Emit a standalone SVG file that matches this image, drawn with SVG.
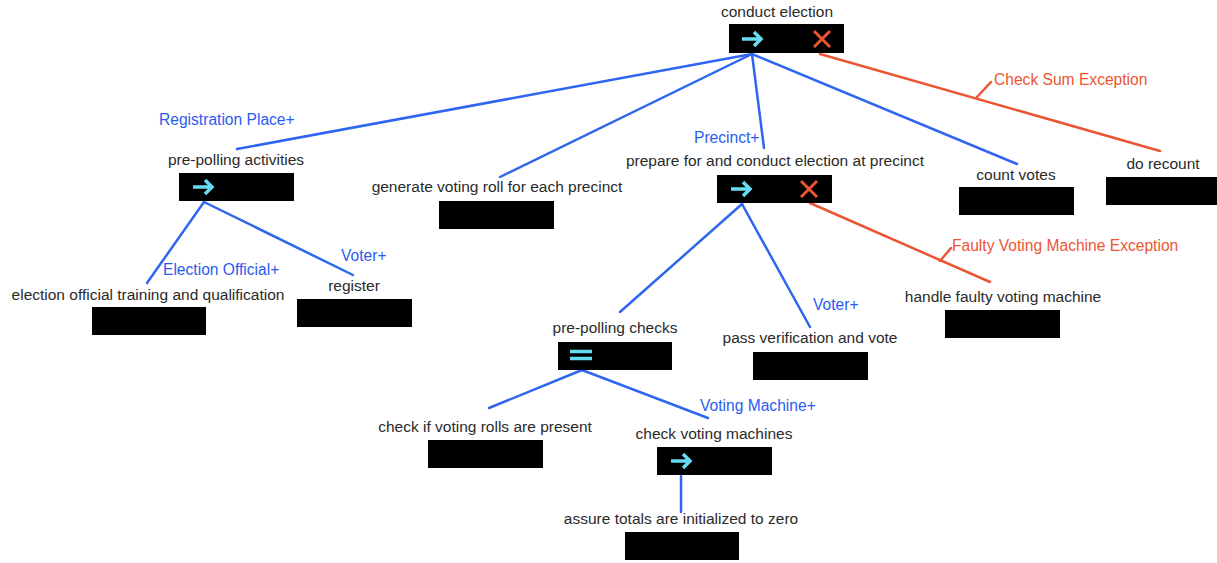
<svg xmlns="http://www.w3.org/2000/svg" width="1217" height="563" viewBox="0 0 1217 563">
<defs>
<style>
.box{fill:#000}
.t{font-family:"Liberation Sans",Arial,sans-serif;font-size:15.5px;fill:#2a2a2a;text-anchor:middle}
.bl{font-family:"Liberation Sans",Arial,sans-serif;font-size:15.6px;fill:#2a5cf0}
.rl{font-family:"Liberation Sans",Arial,sans-serif;font-size:15.6px;fill:#ec5533}
.e{stroke:#2f66f0;stroke-width:2.5;fill:none;stroke-linecap:round}
.x{stroke:#ec5533;stroke-width:2.5;fill:none;stroke-linecap:round}
.ic{stroke:#66dcf0;stroke-width:3.5;fill:none}
.xi{stroke:#ec5533;stroke-width:3}
</style>
<g id="arrowIcon"><path class="ic" d="M0 0 H19 M12 -7 L19 0 L12 7"/></g>
<g id="xIcon"><path class="xi" d="M-8 -8 L8 8 M8 -8 L-8 8"/></g>
</defs>
<rect width="1217" height="563" fill="#fff"/>
<g id="connectors">
<line class="e" x1="752" y1="54" x2="237" y2="149"/>
<line class="e" x1="752" y1="54" x2="500" y2="177"/>
<line class="e" x1="752" y1="54" x2="764" y2="148"/>
<line class="e" x1="752" y1="54" x2="1017" y2="164"/>
<line class="x" x1="820" y1="54" x2="1160" y2="151"/>
<line class="x" x1="977" y1="97" x2="991" y2="82"/>
<line class="e" x1="204" y1="202" x2="147" y2="283"/>
<line class="e" x1="204" y1="202" x2="353" y2="275"/>
<line class="e" x1="742" y1="204" x2="620" y2="312"/>
<line class="e" x1="742" y1="204" x2="810" y2="327"/>
<line class="x" x1="810" y1="203" x2="990" y2="282"/>
<line class="x" x1="940" y1="261" x2="951" y2="248"/>
<line class="e" x1="582" y1="370" x2="489" y2="408"/>
<line class="e" x1="582" y1="370" x2="708" y2="418"/>
<line class="e" x1="681" y1="476" x2="681" y2="512"/>
<text class="bl" x="159" y="125">Registration Place+</text>
<text class="bl" x="694" y="143">Precinct+</text>
<text class="bl" x="163" y="275">Election Official+</text>
<text class="bl" x="341" y="261">Voter+</text>
<text class="bl" x="813" y="310">Voter+</text>
<text class="bl" x="700" y="411">Voting Machine+</text>
<text class="rl" x="994" y="85">Check Sum Exception</text>
<text class="rl" x="952" y="251">Faulty Voting Machine Exception</text>
</g>
<g id="conduct-election">
<text class="t" x="777" y="17">conduct election</text>
<rect class="box" x="729" y="24" width="115" height="29"/>
<use href="#arrowIcon" x="742" y="39"/>
<use href="#xIcon" x="822" y="39"/>
</g>
<g id="pre-polling-activities">
<text class="t" x="236" y="165">pre-polling activities</text>
<rect class="box" x="179" y="173" width="115" height="28"/>
<use href="#arrowIcon" x="193" y="187"/>
</g>
<g id="generate-voting-roll">
<text class="t" x="497" y="192">generate voting roll for each precinct</text>
<rect class="box" x="439" y="201" width="115" height="28"/>
</g>
<g id="prepare-precinct">
<text class="t" x="775" y="166">prepare for and conduct election at precinct</text>
<rect class="box" x="717" y="175" width="115" height="28"/>
<use href="#arrowIcon" x="731" y="189"/>
<use href="#xIcon" x="809" y="189"/>
</g>
<g id="count-votes">
<text class="t" x="1016" y="180">count votes</text>
<rect class="box" x="959" y="187" width="115" height="28"/>
</g>
<g id="do-recount">
<text class="t" x="1163" y="169">do recount</text>
<rect class="box" x="1106" y="177" width="111" height="28"/>
</g>
<g id="election-official-training">
<text class="t" x="148" y="300">election official training and qualification</text>
<rect class="box" x="92" y="307" width="114" height="28"/>
</g>
<g id="register">
<text class="t" x="354" y="291">register</text>
<rect class="box" x="297" y="299" width="115" height="28"/>
</g>
<g id="pre-polling-checks">
<text class="t" x="615" y="333">pre-polling checks</text>
<rect class="box" x="558" y="342" width="114" height="28"/>
<path class="ic" d="M570 351.5 H592 M570 358.5 H592"/>
</g>
<g id="pass-verification">
<text class="t" x="810" y="343">pass verification and vote</text>
<rect class="box" x="753" y="352" width="115" height="28"/>
</g>
<g id="handle-faulty">
<text class="t" x="1003" y="302">handle faulty voting machine</text>
<rect class="box" x="945" y="310" width="115" height="28"/>
</g>
<g id="check-voting-rolls">
<text class="t" x="485" y="432">check if voting rolls are present</text>
<rect class="box" x="428" y="440" width="115" height="28"/>
</g>
<g id="check-voting-machines">
<text class="t" x="714" y="439">check voting machines</text>
<rect class="box" x="657" y="447" width="115" height="28"/>
<use href="#arrowIcon" x="671" y="461"/>
</g>
<g id="assure-totals">
<text class="t" x="681" y="524">assure totals are initialized to zero</text>
<rect class="box" x="625" y="532" width="114" height="28"/>
</g>
</svg>
